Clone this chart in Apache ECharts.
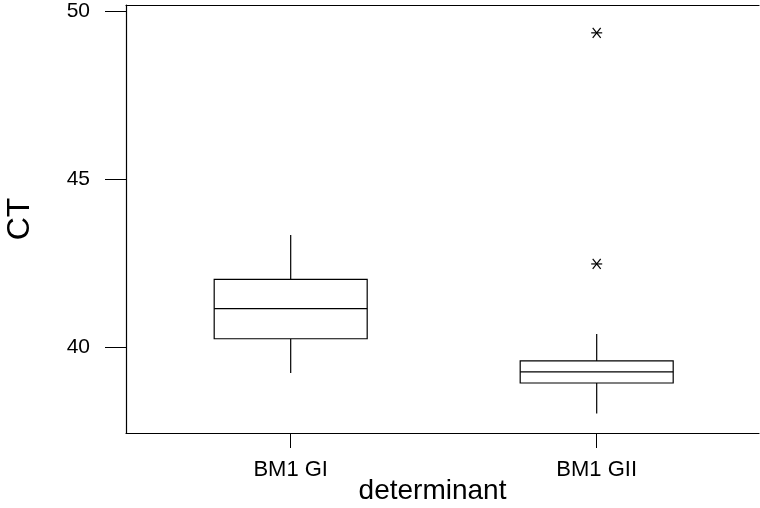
<!DOCTYPE html>
<html>
<head>
<meta charset="utf-8">
<script src="https://cdn.jsdelivr.net/npm/echarts@6/dist/echarts.min.js"></script>
<style>
  html, body { margin: 0; padding: 0; background: #fff; }
  #chart { width: 760px; height: 508px; }
</style>
</head>
<body>
<div id="chart"></div>
<script>
var categories = ['BM1 GI', 'BM1 GII'];
var positions = [1, 2];
var lowWhisker = [39.22, 38.01];
var q1 = [40.24, 38.92];
var median = [41.14, 39.25];
var q3 = [42.01, 39.58];
var highWhisker = [43.33, 40.38];
var outlierPos = [2, 2];
var outlierValues = [49.36, 42.47];
var yTicks = [40, 45, 50];

var boxData = positions.map(function (p, i) {
    return [p, lowWhisker[i], q1[i], median[i], q3[i], highWhisker[i]];
});
var outlierData = outlierPos.map(function (p, i) {
    return [p, outlierValues[i]];
});

var font = 'Liberation Sans, Arial, sans-serif';
var chart = echarts.init(document.getElementById('chart'));

function renderBox(params, api) {
    var x = api.value(0);
    var lo = api.coord([x, api.value(1)]);
    var b1 = api.coord([x, api.value(2)]);
    var md = api.coord([x, api.value(3)]);
    var b3 = api.coord([x, api.value(4)]);
    var hi = api.coord([x, api.value(5)]);
    var w = api.size([0.5, 0])[0];
    var st = { stroke: '#000', lineWidth: 1.2, fill: null };
    return {
        type: 'group',
        children: [
            { type: 'line', shape: { x1: lo[0], y1: lo[1], x2: b1[0], y2: b1[1] }, style: st },
            { type: 'line', shape: { x1: b3[0], y1: b3[1], x2: hi[0], y2: hi[1] }, style: st },
            { type: 'rect', shape: { x: b3[0] - w / 2, y: b3[1], width: w, height: b1[1] - b3[1] },
              style: { stroke: '#000', lineWidth: 1.2, fill: '#fff' } },
            { type: 'line', shape: { x1: md[0] - w / 2, y1: md[1], x2: md[0] + w / 2, y2: md[1] }, style: st }
        ]
    };
}

function renderStar(params, api) {
    var c = api.coord([api.value(0), api.value(1)]);
    var st = { stroke: '#000', lineWidth: 1.2 };
    return {
        type: 'group',
        children: [
            { type: 'line', shape: { x1: c[0] - 5.5, y1: c[1], x2: c[0] + 5.5, y2: c[1] }, style: st },
            { type: 'line', shape: { x1: c[0] - 4, y1: c[1] - 5, x2: c[0] + 4, y2: c[1] + 5 }, style: st },
            { type: 'line', shape: { x1: c[0] + 4, y1: c[1] - 5, x2: c[0] - 4, y2: c[1] + 5 }, style: st }
        ]
    };
}

var option = {
    backgroundColor: '#fff',
    animation: false,
    grid: { left: 126, right: 1, top: 5, bottom: 75, outerBoundsMode: 'none', containLabel: false },
    xAxis: [{
        type: 'value',
        min: 0.4618,
        max: 2.5304,
        name: 'determinant',
        nameLocation: 'middle',
        nameGap: 44,
        nameMoveOverlap: false,
        nameTextStyle: { fontFamily: font, fontSize: 28, color: '#000', padding: [0, 20, 0, 0] },
        splitLine: { show: false },
        axisLine: { lineStyle: { color: '#000', width: 1.2 } },
        axisTick: { customValues: positions, length: 15, lineStyle: { color: '#000' } },
        axisLabel: {
            customValues: positions,
            margin: 26,
            fontFamily: font, fontSize: 22, color: '#000',
            formatter: function (v) { return categories[positions.indexOf(v)]; }
        }
    }, {
        type: 'value',
        position: 'top',
        min: 0.4618,
        max: 2.5304,
        splitLine: { show: false },
        axisLine: { show: true, lineStyle: { color: '#000', width: 1.2 } },
        axisTick: { show: false },
        axisLabel: { show: false }
    }],
    yAxis: {
        type: 'value',
        min: 37.43,
        max: 50.19,
        name: 'CT',
        nameLocation: 'middle',
        nameRotate: 90,
        nameGap: 90,
        nameMoveOverlap: false,
        nameTextStyle: { fontFamily: font, fontSize: 32, color: '#000' },
        splitLine: { show: false },
        axisLine: { show: true, lineStyle: { color: '#000', width: 1.2 } },
        axisTick: { customValues: yTicks, length: 21, lineStyle: { color: '#000' } },
        axisLabel: { customValues: yTicks, margin: 36, fontFamily: font, fontSize: 21, color: '#000' }
    },
    series: [{
        type: 'custom',
        renderItem: renderBox,
        encode: { x: 0, y: [1, 2, 3, 4, 5] },
        data: boxData
    }, {
        type: 'custom',
        renderItem: renderStar,
        encode: { x: 0, y: 1 },
        data: outlierData
    }]
};

chart.setOption(option);
</script>
</body>
</html>
